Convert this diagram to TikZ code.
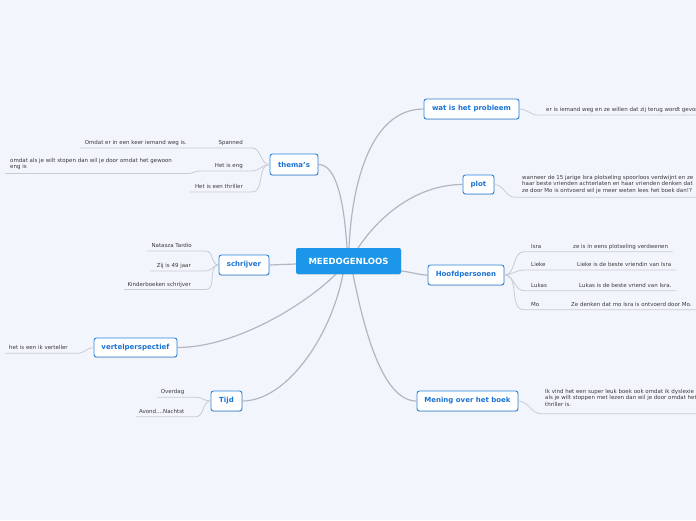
\documentclass[tikz,border=0pt]{standalone}
\usepackage{fontspec}
\setmainfont{DejaVu Sans}
\usetikzlibrary{calc,shadows}
\definecolor{bgcol}{HTML}{F3F5FD}
\definecolor{centerfill}{HTML}{1C96E8}
\definecolor{topicborder}{HTML}{2B82D9}
\definecolor{topictext}{HTML}{1B73D3}
\definecolor{mainline}{HTML}{B3B6C2}
\definecolor{leafline}{HTML}{C9CCD6}
\definecolor{leaftext}{HTML}{3A3A3A}
\tikzset{
  topic/.style={draw=topicborder, line width=0.9pt, fill=white, rounded corners=2.5pt,
    text=topictext, font=\bfseries\fontsize{7}{8}\selectfont, inner sep=0,
    minimum height=20pt, drop shadow={shadow xshift=0.4pt, shadow yshift=-0.9pt, opacity=0.25}},
  centernode/.style={fill=centerfill, rounded corners=2pt, text=white,
    font=\bfseries\fontsize{8.5}{9}\selectfont, inner sep=0, minimum width=105pt, minimum height=26pt,
    drop shadow={shadow xshift=0.4pt, shadow yshift=-0.9pt, opacity=0.2}},
  leaf/.style={font=\fontsize{5.5}{6.3}\selectfont, text=leaftext, inner sep=0},
  mainconn/.style={draw=mainline, line width=1.2pt},
  leafconn/.style={draw=leafline, line width=0.8pt},
}
\begin{document}
\begin{tikzpicture}[x=1pt,y=-1pt]
\useasboundingbox (0,0) rectangle (696,520);
\fill[bgcol] (0,0) rectangle (696,520);
\clip (0,0) rectangle (696,520);

% ---------- connector start points on the center node ----------
\coordinate (cwp) at (349,248);
\coordinate (cpl) at (358,248);
\coordinate (cth) at (347,248);
\coordinate (csc) at (296,264);
\coordinate (cve) at (336,274);
\coordinate (cti) at (343,274);
\coordinate (chp) at (401,271);
\coordinate (cme) at (353,274);

% ---------- topic nodes ----------
\node[topic, minimum width=95pt] (wp) at (471.5,109) {wat is het probleem};
\node[topic, minimum width=31pt, minimum height=19pt] (pl) at (478.5,184.5) {plot};
\node[topic, minimum width=48pt, minimum height=21pt] (th) at (294,164.5) {thema's};
\node[topic, minimum width=50pt] (sc) at (244,265) {schrijver};
\node[topic, minimum width=83pt, minimum height=19pt] (ve) at (135.5,347.5) {vertelperspectief};
\node[topic, minimum width=31pt] (ti) at (226.5,401) {Tijd};
\node[topic, minimum width=76pt] (hp) at (466,275) {Hoofdpersonen};
\node[topic, minimum width=101pt] (me) at (467.5,401) {Mening over het boek};

\draw[mainconn] (cwp) .. controls (352,180) and (372,109) .. (wp.west);
\draw[mainconn] (cpl) .. controls (382,212) and (420,184.5) .. (pl.west);
\draw[mainconn] (cth) .. controls (344,200) and (336,164.5) .. (th.east);
\draw[mainconn] (csc) -- (sc.east);
\draw[mainconn] (cve) .. controls (305,305) and (235,347.5) .. (ve.east);
\draw[mainconn] (cti) .. controls (330,340) and (285,401) .. (ti.east);
\draw[mainconn] (chp) .. controls (412,272) and (418,275) .. (hp.west);
\draw[mainconn] (cme) .. controls (366,340) and (385,401) .. (me.west);

\node[centernode] (c) at (348.5,261) {MEEDOGENLOOS};

% ---------- thema's ----------
\coordinate (t1n) at (252,148); \coordinate (t1m) at (193,148); \coordinate (t1f) at (80,148);
\coordinate (t2n) at (252,171); \coordinate (t2m) at (200,171); \coordinate (t2k) at (188,173.5); \coordinate (t2f) at (5,173.5);
\coordinate (t3n) at (252,192); \coordinate (t3f) at (190,192);
\draw[leafconn] (th.west) to[out=180,in=0] (t1n) -- (t1m) -- (t1f);
\draw[leafconn] (th.west) to[out=180,in=0] (t2n) -- (t2m) to[out=180,in=0] (t2k) -- (t2f);
\draw[leafconn] (th.west) to[out=180,in=0] (t3n) -- (t3f);
\node[leaf, anchor=base east] (t1) at (243,144.5) {Spanned};
\node[leaf, anchor=base east] (t1a) at (187,144.5) {Omdat er in een keer iemand weg is.};
\node[leaf, anchor=base east] (t2) at (243,167.5) {Het is eng};
\node[leaf, anchor=north west, align=left] (t2a) at (10,158) {omdat als je wilt stopen dan wil je door omdat het gewoon\\eng is};
\node[leaf, anchor=base east] (t3) at (243,188.5) {Het is een thriller};

% ---------- schrijver ----------
\coordinate (s1n) at (206,251); \coordinate (s1f) at (147,251);
\coordinate (s2n) at (206,271); \coordinate (s2f) at (150,271);
\coordinate (s3n) at (206,289.5); \coordinate (s3f) at (124,289.5);
\draw[leafconn] (sc.west) to[out=180,in=0] (s1n) -- (s1f);
\draw[leafconn] (sc.west) to[out=180,in=0] (s2n) -- (s2f);
\draw[leafconn] (sc.west) to[out=180,in=0] (s3n) -- (s3f);
\node[leaf, anchor=base east] (s1) at (192,247.5) {Natasza Tardio};
\node[leaf, anchor=base east] (s2) at (191,267.5) {Zij is 49 jaar};
\node[leaf, anchor=base east] (s3) at (191,286) {Kinderboeken schrijver};

% ---------- vertelperspectief ----------
\coordinate (v1n) at (78,353.3); \coordinate (v1f) at (5,353.3);
\draw[leafconn] (ve.west) to[out=180,in=0] (v1n) -- (v1f);
\node[leaf, anchor=base west] (v1) at (9,349.8) {het is een ik verteller};

% ---------- Tijd ----------
\coordinate (i1n) at (196,397.3); \coordinate (i1f) at (157,397.3);
\coordinate (i2n) at (196,416.7); \coordinate (i2f) at (136,416.7);
\draw[leafconn] (ti.west) to[out=180,in=0] (i1n) -- (i1f);
\draw[leafconn] (ti.west) to[out=180,in=0] (i2n) -- (i2f);
\node[leaf, anchor=base east] (i1) at (184.5,393.8) {Overdag};
\node[leaf, anchor=base east] (i2) at (184.5,413.2) {Avond....Nachtst};

% ---------- wat is het probleem ----------
\coordinate (w1n) at (538,115); \coordinate (w1f) at (700,115);
\draw[leafconn] (wp.east) to[out=0,in=180] (w1n) -- (w1f);
\node[leaf, anchor=base west] (w1) at (546,111.5) {er is iemand weg en ze willen dat zij terug wordt gevonden};

% ---------- plot ----------
\coordinate (p1n) at (515,197.3); \coordinate (p1f) at (700,197.3);
\draw[leafconn] (pl.east) to[out=0,in=180] (p1n) -- (p1f);
\node[leaf, anchor=north west, align=left] (p1) at (522,175.3) {wanneer de 15 jarige Isra plotseling spoorloos verdwijnt en ze\\haar beste vrienden achterlaten en haar vrienden denken dat\\ze door Mo is ontvoerd wil je meer weten lees het boek dan!?};

% ---------- Hoofdpersonen ----------
\coordinate (h1n) at (524,251.7); \coordinate (h1m) at (556,251.7); \coordinate (h1f) at (672.7,251.7);
\coordinate (h2n) at (524,270); \coordinate (h2m) at (556,270); \coordinate (h2f) at (676,270);
\coordinate (h3n) at (524,290.7); \coordinate (h3m) at (556,290.7); \coordinate (h3f) at (676,290.7);
\coordinate (h4n) at (524,309.7); \coordinate (h4m) at (556,309.7); \coordinate (h4f) at (700,309.7);
\draw[leafconn] (hp.east) to[out=0,in=180] (h1n) -- (h1m) -- (h1f);
\draw[leafconn] (hp.east) to[out=0,in=180] (h2n) -- (h2m) -- (h2f);
\draw[leafconn] (hp.east) to[out=0,in=180] (h3n) -- (h3m) -- (h3f);
\draw[leafconn] (hp.east) to[out=0,in=180] (h4n) -- (h4m) -- (h4f);
\node[leaf, anchor=base west] (h1) at (531,248.2) {Isra};
\node[leaf, anchor=base west] (h1a) at (573,248.2) {ze is in eens plotseling verdwenen};
\node[leaf, anchor=base west] (h2) at (531,266.5) {Lieke};
\node[leaf, anchor=base west] (h2a) at (577,266.5) {Lieke is de beste vriendin van Isra};
\node[leaf, anchor=base west] (h3) at (531,287.2) {Lukas};
\node[leaf, anchor=base west] (h3a) at (579,287.2) {Lukas is de beste vriend van Isra.};
\node[leaf, anchor=base west] (h4) at (531,306.2) {Mo};
\node[leaf, anchor=base west] (h4a) at (571,306.2) {Ze denken dat mo Isra is ontvoerd door Mo.};

% ---------- Mening ----------
\coordinate (m1n) at (541,413.7); \coordinate (m1f) at (700,413.7);
\draw[leafconn] (me.east) to[out=0,in=180] (m1n) -- (m1f);
\node[leaf, anchor=north west, align=left] (m1) at (545,389.3) {Ik vind het een super leuk boek ook omdat ik dyslexie heb en\\als je wilt stoppen met lezen dan wil je door omdat het een\\thriller is.};
\end{tikzpicture}
\end{document}
